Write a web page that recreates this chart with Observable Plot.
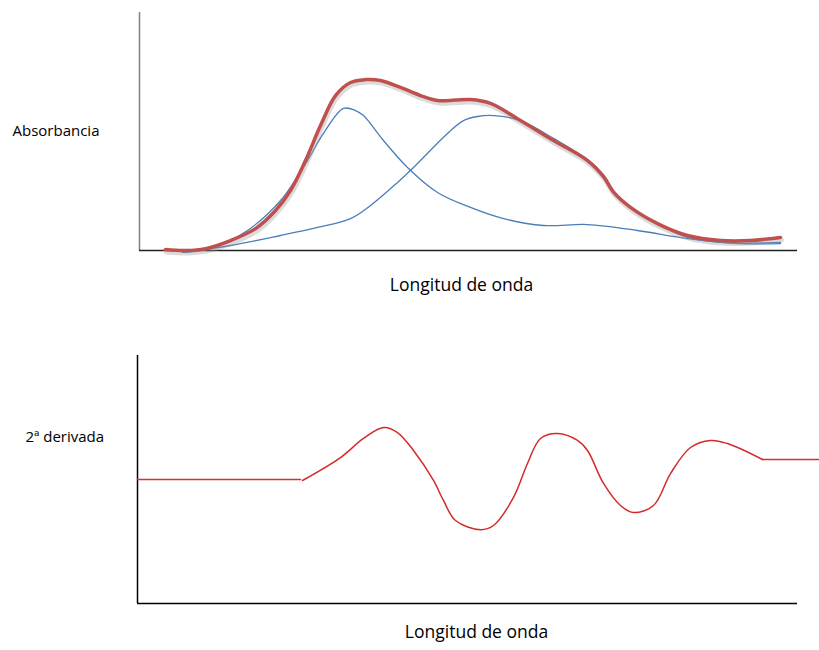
<!DOCTYPE html>
<html>
<head>
<meta charset="utf-8">
<script src="https://cdn.jsdelivr.net/npm/d3@7"></script>
<script src="https://cdn.jsdelivr.net/npm/@observablehq/plot@0.6"></script>
<style>
  html, body { margin: 0; padding: 0; background: #fff; }
  #chart { position: relative; width: 819px; height: 650px; font-family: "Open Sans", sans-serif; }
  #chart svg { display: block; }
</style>
</head>
<body>
<div id="chart"></div>
<script>
// Wavelength in arbitrary units (0–100); absorbance normalised to 0–1.
const sumWl  = [3.95, 6.99, 10.03, 13.83, 17.63, 20.67, 22.95, 25.23, 27.51, 29.79, 32.07, 34.35, 36.63, 39.67, 42.71, 45.29, 48.02, 50.30, 53.34, 57.90, 62.92, 68.09, 70.52, 72.04, 74.62, 78.72, 83.28, 88.30, 92.86, 97.42];
const sumAbs = [0.004, 0.0, 0.008, 0.042, 0.092, 0.168, 0.252, 0.378, 0.525, 0.651, 0.706, 0.718, 0.714, 0.685, 0.651, 0.630, 0.632, 0.634, 0.618, 0.546, 0.462, 0.378, 0.310, 0.245, 0.181, 0.113, 0.063, 0.042, 0.042, 0.055];

const band1Wl  = [6.53, 10.79, 16.41, 21.43, 25.53, 27.96, 31.0, 32.83, 34.04, 37.08, 40.73, 45.29, 50.30, 55.32, 61.40, 68.09, 75.68, 83.28, 90.88, 97.42];
const band1Abs = [-0.008, 0.008, 0.084, 0.210, 0.378, 0.492, 0.597, 0.588, 0.567, 0.462, 0.349, 0.244, 0.181, 0.134, 0.105, 0.109, 0.084, 0.050, 0.029, 0.029];

const band2Wl  = [6.53, 13.83, 21.43, 27.05, 32.07, 35.11, 39.21, 41.64, 46.81, 49.24, 51.37, 53.80, 57.90, 62.92, 68.09, 70.52, 72.04, 74.62, 78.72, 83.28, 88.30, 97.42];
const band2Abs = [-0.008, 0.021, 0.063, 0.097, 0.134, 0.189, 0.286, 0.349, 0.492, 0.546, 0.563, 0.567, 0.546, 0.471, 0.382, 0.318, 0.250, 0.181, 0.113, 0.055, 0.034, 0.034];

// Second derivative, drawn in three pieces (flat baseline, signal, flat tail).
const d2LeadWl  = [0, 24.70];
const d2LeadVal = [0, 0];
const d2Wl  = [25.0, 30.76, 34.24, 37.27, 39.39, 41.82, 44.85, 46.36, 48.18, 51.97, 53.94, 56.97, 59.09, 61.06, 63.64, 66.67, 68.18, 70.61, 73.18, 75.15, 78.18, 80.76, 83.79, 86.82, 89.39, 94.70];
const d2Val = [-0.008, 0.177, 0.331, 0.419, 0.379, 0.234, -0.008, -0.169, -0.331, -0.405, -0.371, -0.145, 0.129, 0.331, 0.371, 0.315, 0.234, -0.032, -0.210, -0.266, -0.210, 0.048, 0.258, 0.315, 0.290, 0.161];
const d2TailWl  = [94.70, 103.33];
const d2TailVal = [0.161, 0.161];

const xLabel = "Longitud de onda";
const yLabelTop = "Absorbancia";
const yLabelBottom = "2ª derivada";

const pts = (xs, ys) => xs.map((x, i) => ({x, y: ys[i]}));

const sum = pts(sumWl, sumAbs);
const band1 = pts(band1Wl, band1Abs);
const band2 = pts(band2Wl, band2Abs);

const spectrumPlot = Plot.plot({
  width: 819,
  height: 325,
  marginLeft: 139,
  marginRight: 22,
  marginTop: 12,
  marginBottom: 75,
  x: {domain: [0, 100], axis: null},
  y: {domain: [0, 1], axis: null},
  style: {fontFamily: "Open Sans, sans-serif", color: "#000", background: "#fff", overflow: "visible"},
  marks: [
    Plot.ruleX([0], {stroke: "#7f7f7f", strokeWidth: 1.5}),
    Plot.ruleY([0], {stroke: "#222", strokeWidth: 1.5}),
    Plot.line(band2, {x: "x", y: "y", curve: "catmull-rom", stroke: "#4a7ebb", strokeWidth: 1.3}),
    Plot.line(band1, {x: "x", y: "y", curve: "catmull-rom", stroke: "#4a7ebb", strokeWidth: 1.3}),
    // soft shadow under the envelope
    Plot.line(sum, {x: "x", y: "y", curve: "catmull-rom", stroke: "#999", strokeOpacity: 0.35, strokeWidth: 5, dx: 1, dy: 2.5}),
    Plot.line(sum, {x: "x", y: "y", curve: "catmull-rom", stroke: "#c0504d", strokeWidth: 3.5}),
    Plot.text([yLabelTop], {frameAnchor: "left", dx: -127, textAnchor: "start", fontSize: 15, fill: "#000"}),
    Plot.text([xLabel], {frameAnchor: "bottom", dx: -7, dy: 40, fontSize: 17.5, fill: "#000"})
  ]
});

const derivativePlot = Plot.plot({
  width: 819,
  height: 325,
  marginLeft: 137,
  marginRight: 22,
  marginTop: 30,
  marginBottom: 47,
  x: {domain: [0, 100], axis: null},
  y: {domain: [-1, 1], axis: null},
  style: {fontFamily: "Open Sans, sans-serif", color: "#000", background: "#fff", overflow: "visible"},
  marks: [
    Plot.ruleX([0], {stroke: "#000", strokeWidth: 1.5}),
    Plot.ruleY([-1], {stroke: "#000", strokeWidth: 1.5}),
    Plot.line(pts(d2LeadWl, d2LeadVal), {x: "x", y: "y", stroke: "#d43030", strokeWidth: 1.5}),
    Plot.line(pts(d2Wl, d2Val), {x: "x", y: "y", curve: "catmull-rom", stroke: "#d42a2a", strokeWidth: 1.5}),
    Plot.line(pts(d2TailWl, d2TailVal), {x: "x", y: "y", stroke: "#d43030", strokeWidth: 1.5}),
    Plot.text([yLabelBottom], {frameAnchor: "left", dx: -112, dy: -42, textAnchor: "start", fontSize: 15, fill: "#000"}),
    Plot.text([xLabel], {frameAnchor: "bottom", dx: 9, dy: 34, fontSize: 17.5, fill: "#000"})
  ]
});

document.getElementById("chart").append(spectrumPlot, derivativePlot);
</script>
</body>
</html>
